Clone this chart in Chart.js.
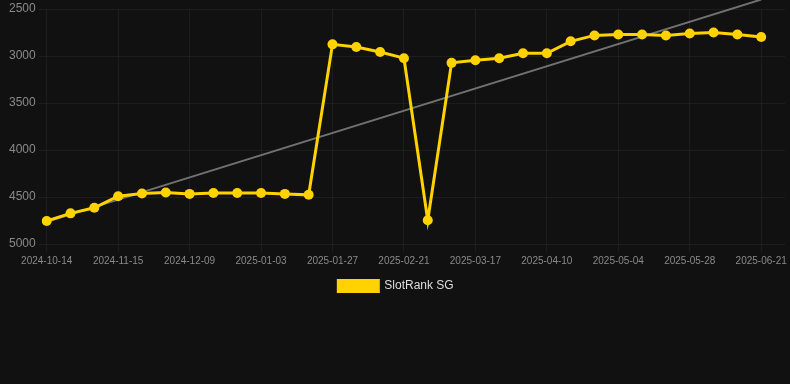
<!DOCTYPE html>
<html>
<head>
<meta charset="utf-8">
<script src="https://cdn.jsdelivr.net/npm/chart.js@4/dist/chart.umd.min.js"></script>
<style>
  html, body { margin: 0; padding: 0; background: #111111; }
  #wrap { width: 790px; height: 302px; position: relative; }
</style>
</head>
<body>
<div id="wrap"><canvas id="c"></canvas></div>
<script>
const categories = [
  "2024-10-14","2024-10-24","2024-11-04","2024-11-15","2024-11-23","2024-12-01",
  "2024-12-09","2024-12-17","2024-12-25","2025-01-03","2025-01-11","2025-01-19",
  "2025-01-27","2025-02-04","2025-02-13","2025-02-21","2025-03-01","2025-03-09",
  "2025-03-17","2025-03-25","2025-04-02","2025-04-10","2025-04-18","2025-04-26",
  "2025-05-04","2025-05-12","2025-05-20","2025-05-28","2025-06-05","2025-06-13",
  "2025-06-21","2025-06-29"
];
const rankValues = [
  4755, 4674, 4615, 4492, 4463, 4453, 4467, 4457, 4457, 4457, 4467, 4477,
  2876, 2904, 2957, 3023, 4748, 3073, 3045, 3023, 2971, 2971, 2844, 2781,
  2771, 2771, 2781, 2760, 2750, 2771, 2798
];
const trendValues = [
  4765, null, null, null, null, null, null, null, null, null, null, null,
  null, null, null, null, null, null, null, null, null, null, null, null,
  null, null, null, null, null, null, 2400
];
const yTicks = [2500, 3000, 3500, 4000, 4500, 5000];

new Chart(document.getElementById('c'), {
  type: 'line',
  data: {
    labels: categories,
    datasets: [
      {
        label: 'SlotRank SG',
        data: rankValues,
        borderColor: '#FFD200',
        backgroundColor: '#FFD200',
        borderWidth: 3,
        pointRadius: 5,
        pointBorderWidth: 0,
        pointBackgroundColor: '#FFD200',
        tension: 0,
        order: 1
      },
      {
        label: 'trend',
        data: trendValues,
        borderColor: 'rgba(130,130,130,0.85)',
        borderWidth: 2,
        pointRadius: 0,
        spanGaps: true,
        tension: 0,
        clip: false,
        order: 2
      }
    ]
  },
  options: {
    responsive: true,
    maintainAspectRatio: false,
    animation: false,
    layout: { padding: { left: 6, right: 4, top: -2, bottom: 0 } },
    scales: {
      x: {
        offset: false,
        grid: { color: 'rgba(255,255,255,0.05)', tickLength: 8 },
        border: { display: false },
        ticks: {
          autoSkip: false,
          maxRotation: 0,
          color: '#8a8a8a',
          font: { family: 'Liberation Sans, Arial, sans-serif', size: 10 },
          callback: function(v, i) { return (i % 3 === 0 && i <= 30) ? categories[i] : null; }
        }
      },
      y: {
        reverse: true,
        min: 2500,
        max: 5000,
        afterBuildTicks: function(axis) { axis.ticks = yTicks.map(v => ({ value: v })); },
        grid: { color: 'rgba(255,255,255,0.05)', tickLength: 8 },
        border: { display: false },
        ticks: {
          color: '#8a8a8a',
          font: { family: 'Liberation Sans, Arial, sans-serif', size: 12, lineHeight: 1 },
          callback: function(v) { return String(v); }
        }
      }
    },
    plugins: {
      legend: {
        position: 'bottom',
        labels: {
          color: '#dddddd',
          boxWidth: 40,
          boxHeight: 11,
          font: { family: 'Liberation Sans, Arial, sans-serif', size: 12 },
          filter: item => item.datasetIndex === 0
        }
      },
      tooltip: { enabled: false }
    }
  }
});
</script>
</body>
</html>
